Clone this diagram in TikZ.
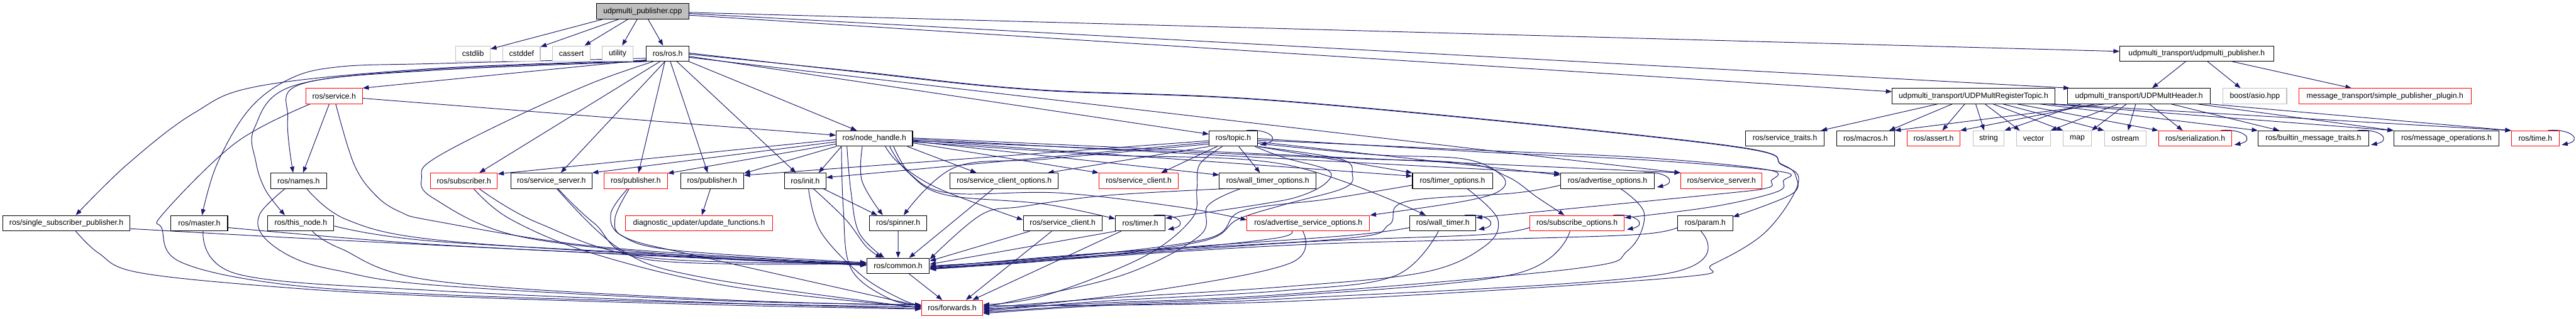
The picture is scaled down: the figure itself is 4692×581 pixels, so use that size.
\documentclass[tikz,border=0pt]{standalone}
\usepackage{fontspec}
\setmainfont{Liberation Sans}
\usetikzlibrary{arrows.meta}
\definecolor{edgec}{HTML}{191970}
\definecolor{grey75}{HTML}{BFBFBF}
\pgfdeclarelayer{bg}
\pgfsetlayers{bg,main}
\newcommand\crv[1]{\draw[e] plot[smooth,tension=0.6] coordinates {#1};}
\newcommand\selfloop[1]{\draw[e] ([xshift=-21pt]#1.north east) .. controls ([xshift=22pt,yshift=4pt]#1.north east) and ([xshift=42pt,yshift=-18pt]#1.north east) .. ([xshift=4pt,yshift=3pt]#1.south east);}
\tikzset{
  box/.style={draw, line width=1.2pt, minimum height=28pt, inner sep=0pt, fill=white, font=\fontsize{14}{16}\selectfont},
  nb/.style={box, draw=black},
  ng/.style={box, draw=grey75},
  nr/.style={box, draw=red},
  mainbox/.style={box, draw=black, fill=grey75},
  e/.style={draw=edgec, line width=1.1pt, line join=round, -{Triangle[length=11pt,width=8pt]}}
}
\begin{document}
\begin{tikzpicture}[x=1pt,y=-1pt]
\useasboundingbox (0,0) rectangle (4692,581);
% Row A
\node[mainbox, minimum width=168pt] (cpp) at (1170.5,20.7) {udpmulti\_publisher.cpp};
% Row B
\node[ng, minimum width=62.4pt] (cstdlib) at (861.6,97.7) {cstdlib};
\node[ng, minimum width=68pt] (cstddef) at (950,97.7) {cstddef};
\node[ng, minimum width=68pt] (cassert) at (1040.7,97.7) {cassert};
\node[ng, minimum width=56pt] (utility) at (1124.9,97.7) {utility};
\node[nb, minimum width=77pt] (ros) at (1216,97.7) {ros/ros.h};
\node[nb, minimum width=280pt] (udppub) at (4001,97.7) {udpmulti\_transport/udpmulti\_publisher.h};
% Row C
\node[nr, minimum width=103pt] (service) at (608.6,175.3) {ros/service.h};
\node[nb, minimum width=296pt] (regtopic) at (3594.6,175.3) {udpmulti\_transport/UDPMultRegisterTopic.h};
\node[nb, minimum width=259.6pt] (header) at (3896,175.3) {udpmulti\_transport/UDPMultHeader.h};
\node[ng, minimum width=116pt] (asio) at (4107,175.3) {boost/asio.hpp};
\node[nr, minimum width=314pt] (mtplugin) at (4344,175.3) {message\_transport/simple\_publisher\_plugin.h};
% Row D
\node[nb, minimum width=139pt] (nh) at (1592.6,252.7) {ros/node\_handle.h};
\node[nb, minimum width=88pt] (topic) at (2246.4,252.7) {ros/topic.h};
\node[nb, minimum width=142.5pt] (srvtraits) at (3251,252.7) {ros/service\_traits.h};
\node[nb, minimum width=105pt] (macros) at (3398,252.7) {ros/macros.h};
\node[nr, minimum width=96pt] (rassert) at (3521.8,252.7) {ros/assert.h};
\node[ng, minimum width=57pt] (str) at (3622,252.7) {string};
\node[ng, minimum width=61pt] (vec) at (3704,252.7) {vector};
\node[ng, minimum width=51pt] (mapn) at (3783.7,252.7) {map};
\node[ng, minimum width=76pt] (ostr) at (3871,252.7) {ostream};
\node[nr, minimum width=133.5pt] (serial) at (3998.5,252.7) {ros/serialization.h};
\node[nb, minimum width=201pt] (builtin) at (4213.6,252.7) {ros/builtin\_message\_traits.h};
\node[nb, minimum width=191.4pt] (msgops) at (4456,252.7) {ros/message\_operations.h};
\node[nr, minimum width=86.7pt] (rtime) at (4618,252.7) {ros/time.h};
% Row E
\node[nb, minimum width=101.3pt] (names) at (543.9,329.8) {ros/names.h};
\node[nr, minimum width=122pt] (sub) at (845,329.8) {ros/subscriber.h};
\node[nb, minimum width=147.6pt] (ssrvB) at (1004.4,329.8) {ros/service\_server.h};
\node[nr, minimum width=115pt] (pubR) at (1158,329.8) {ros/publisher.h};
\node[nb, minimum width=115pt] (pubB) at (1297,329.8) {ros/publisher.h};
\node[nb, minimum width=75.6pt] (rinit) at (1466.7,329.8) {ros/init.h};
\node[nb, minimum width=197.5pt] (sco) at (1829,329.8) {ros/service\_client\_options.h};
\node[nr, minimum width=144.6pt] (sclR) at (2074,329.8) {ros/service\_client.h};
\node[nb, minimum width=176pt] (wto) at (2309,329.8) {ros/wall\_timer\_options.h};
\node[nb, minimum width=145.6pt] (topt) at (2645.6,329.8) {ros/timer\_options.h};
\node[nb, minimum width=171pt] (ao) at (2928,329.8) {ros/advertise\_options.h};
\node[nr, minimum width=148pt] (ssrvR) at (3135.5,329.8) {ros/service\_server.h};
% Row F
\node[nb, minimum width=232pt] (ssp) at (121,407.2) {ros/single\_subscriber\_publisher.h};
\node[nb, minimum width=103.3pt] (master) at (363,407.2) {ros/master.h};
\node[nb, minimum width=120.4pt] (thisnode) at (548,407.2) {ros/this\_node.h};
\node[nr, minimum width=269pt] (diag) at (1273.2,407.2) {diagnostic\_updater/update\_functions.h};
\node[nb, minimum width=104.3pt] (spinner) at (1636,407.2) {ros/spinner.h};
\node[nb, minimum width=143.6pt] (sclB) at (1935.6,407.2) {ros/service\_client.h};
\node[nb, minimum width=90.7pt] (timer) at (2077,407.2) {ros/timer.h};
\node[nr, minimum width=223.4pt] (aso) at (2383,407.2) {ros/advertise\_service\_options.h};
\node[nb, minimum width=120pt] (walltimer) at (2628,407.2) {ros/wall\_timer.h};
\node[nr, minimum width=172.3pt] (subopt) at (2872.5,407.2) {ros/subscribe\_options.h};
\node[nb, minimum width=100pt] (param) at (3105.9,407.2) {ros/param.h};
% Row G, H
\node[nb, minimum width=114.4pt] (common) at (1635.8,485) {ros/common.h};
\node[nr, minimum width=111.8pt] (fwd) at (1734.3,561.8) {ros/forwards.h};

\begin{pgfonlayer}{bg}
% cpp
\draw[e] ([xshift=-73pt]cpp.south) -- (cstdlib);
\draw[e] ([xshift=-44pt]cpp.south) -- (cstddef);
\draw[e] ([xshift=-27pt]cpp.south) -- (cassert);
\draw[e] ([xshift=-10pt]cpp.south) -- (utility);
\draw[e] ([xshift=10pt]cpp.south) -- (ros);
\draw[e] ([yshift=-2pt]cpp.east) -- ([yshift=4pt]udppub.west);
\draw[e] ([yshift=-4pt]cpp.east) -- ([xshift=4pt]header.north west);
\draw[e] ([yshift=-7pt]cpp.east) -- ([yshift=8pt]regtopic.west);
% ros.h
\draw[e] ([yshift=3pt]ros.south west) -- (service.north east);
\crv{([yshift=2pt]ros.south west) (790,125) (473.5,156.7) (352.6,206.7) (231.7,300) ([xshift=17pt]ssp.north)}
\crv{([yshift=6pt]ros.south west) (790,116) (619.6,121.7) (529,143.3) (453.4,200) (395,300) ([xshift=5pt]master.north)}
\crv{([yshift=1pt]ros.south west) (790,126.7) (534,156.7) (463.5,233.3) (466,295) (483.6,346.7) ([xshift=-29pt]thisnode.north)}
\crv{(ros.south west) (790,128.3) (549,153.3) (524,216.7) ([xshift=-10pt]names.north)}
\draw[e] ([xshift=-14pt]ros.south) -- ([xshift=28pt]sub.north);
\draw[e] ([xshift=-5pt]ros.south) -- ([xshift=17pt]ssrvB.north);
\draw[e] ([xshift=-5pt]ros.south) -- ([xshift=5pt]pubR.north);
\draw[e] ([xshift=5pt]ros.south) -- ([xshift=-8pt]pubB.north);
\draw[e] ([xshift=17pt]ros.south) -- ([xshift=-17pt]rinit.north);
\draw[e] (ros.south east) -- ([xshift=-32pt]nh.north);
\draw[e] ([yshift=-5pt]ros.east) -- ([yshift=8pt]topic.west);
\draw[e] ([yshift=-7pt]ros.east) -- (ssrvR.north west);
\crv{([yshift=-1pt]ros.east) (1560,130) (1882,163) (2350,185) (3130,263) (3246,300) (3272,325) (3262,355) ([yshift=-3pt]param.north east)}
\crv{([yshift=1pt]ros.east) (1560,131) (1882,164) (2350,186) (3130,264) (3246,301) (3275,335) (3216,423) (3120,482) (3045,507) (2340,550) ([yshift=4pt]fwd.east)}
\crv{([xshift=13pt]ros.south west) (1082,150) (931,217) (790,290) (768,323) (790,362) (950,432) (1300,470) ([yshift=4pt]common.west)}
% service.h
\draw[e] ([xshift=-9pt]service.south) -- ([xshift=8pt]names.north);
\draw[e] ([yshift=-4pt]service.east) -- ([yshift=6pt]nh.west);
\crv{([xshift=-44pt]service.south) (430,260) (297,390) (295,417) (327,477) (504,517) (790,537) (1300,553) ([yshift=2pt]fwd.west)}
\crv{([xshift=3pt]service.south) (645,300) (685,357) (730,387) (790,403) (1062,447) (1400,472) ([yshift=6pt]common.west)}
% left nodes
\crv{([xshift=15pt]names.south) (630,400) (790,437) (1200,465) ([yshift=2pt]common.west)}
\crv{([xshift=-25pt]names.south) (473.5,390) (478.6,430) (534,470) (614.6,493.3) (790,520) (1300,548) ([yshift=6pt]fwd.west)}
\crv{([yshift=-10pt]ssp.east) (500,432) (790,447) (1300,472) ([yshift=1pt]common.west)}
\crv{([xshift=17pt]ssp.south) (180,462) (252,497) (500,523) (790,540) (1300,556) ([yshift=-2pt]fwd.west)}
\crv{([yshift=-8pt]master.east) (790,446) (1300,471) ([yshift=2pt]common.west)}
\crv{([xshift=7pt]master.south) (433,500) (790,530) (1300,552) ([yshift=-1pt]fwd.west)}
\crv{([yshift=-5pt]thisnode.east) (790,440) (1300,468) ([yshift=3pt]common.west)}
\crv{([xshift=21pt]thisnode.south) (619.6,453) (790,512) (1300,546) ([yshift=5pt]fwd.west)}
\crv{([xshift=28pt]sub.south) (981,407) (1183,470) ([yshift=5pt]common.west)}
\crv{([xshift=18pt]sub.south) (930,400) (1082,463) (1334,523) ([yshift=1pt]fwd.west)}
\crv{([xshift=12pt]ssrvB.south) (1082,407) (1183,474) ([yshift=4pt]common.west)}
\crv{([xshift=10pt]ssrvB.south) (1132.6,456.7) (1283.8,506.7) ([yshift=0pt]fwd.west)}
\crv{([xshift=-15pt]pubR.south) (1112.5,390) (1132.6,430) (1233,457) ([yshift=6pt]common.west)}
\crv{([xshift=-12pt]pubR.south) (1120,400) (1143,435) (1284,470) ([yshift=3pt]fwd.west)}
\draw[e] ([xshift=-3pt]pubB.south) -- ([xshift=5pt]diag.north);
\draw[e] ([xshift=33pt]rinit.south) -- ([xshift=-38pt]spinner.north);
\crv{([xshift=15pt]rinit.south) (1540,400) (1578,450) ([xshift=-30pt]common.north)}
\crv{([xshift=6pt]rinit.south) (1495,423) (1570,503) (1640,545) ([yshift=4pt]fwd.west)}
% node_handle.h
\draw[e] ([yshift=-2pt]nh.west) -- ([yshift=-2pt]sub.north east);
\draw[e] ([yshift=-6pt]nh.west) -- (ssrvB.north east);
\draw[e] ([yshift=-10pt]nh.west) -- ([yshift=-1pt]pubR.north east);
\draw[e] (nh.south west) -- ([yshift=-1pt]pubB.north east);
\draw[e] ([xshift=10pt]nh.south west) -- ([xshift=-14pt]rinit.north east);
\draw[e] ([xshift=-10pt]nh.south east) -- ([xshift=49pt]sco.north west);
\draw[e] ([yshift=-8pt]nh.east) -- (sclR.north west);
\draw[e] ([yshift=-5pt]nh.east) -- ([yshift=-4pt]wto.north west);
\draw[e] ([yshift=-3pt]nh.east) -- ([yshift=-6pt]topt.north west);
\draw[e] ([yshift=-1pt]nh.east) -- ([yshift=-1pt]ao.north west);
\draw[e] ([yshift=1pt]nh.east) -- (ssrvR.north west);
\crv{([xshift=-22pt]nh.south) (1570,330) ([xshift=-28pt]spinner.north)}
\crv{([xshift=20pt]nh.south) (1640,300) (1712,345) ([yshift=6pt]sclB.west)}
\crv{([xshift=35pt]nh.south) (1660,320) (1725,356) (1900,372) ([yshift=8pt]timer.west)}
\crv{([xshift=28pt]nh.south) (1655,315) (1728,352) (1930,352) (2150,378) ([yshift=6pt]aso.west)}
\crv{([yshift=-6pt]nh.east) (2000,282) (2340,300) ([xshift=-31pt]walltimer.north)}
\crv{([yshift=-4pt]nh.east) (2400,287) (2660,297) (2745,322) (2800,360) ([xshift=-23pt]subopt.north)}
\crv{([xshift=-50pt]nh.south) (1550,350) (1565,425) ([xshift=-25pt]common.north)}
\crv{([xshift=-60pt]nh.south) (1536,380) (1550,490) (1620,545) ([yshift=5pt]fwd.west)}
% topic.h
\draw[e] ([yshift=-4pt]topic.west) -- ([yshift=10pt]pubB.east);
\draw[e] ([yshift=-7pt]topic.west) -- ([yshift=6pt]rinit.east);
\draw[e] (topic.south west) -- ([xshift=-20pt]sco.north east);
\draw[e] ([xshift=15pt]topic.south west) -- ([xshift=-32pt]sclR.north east);
\draw[e] ([xshift=10pt]topic.south) -- ([xshift=-14pt]wto.north);
\draw[e] (topic.south east) -- (topt.north west);
\draw[e] ([yshift=-6pt]topic.east) -- ([yshift=-4pt]ao.north west);
\crv{([yshift=-10pt]topic.west) (1907.6,290) (1740,305) ([xshift=10pt]spinner.north)}
\crv{([xshift=-5pt]topic.south east) (2340,288) (2418,310) (2416,333) (2370,357) (2300,372) ([yshift=9pt]timer.east)}
\crv{(topic.south east) (2441,290) (2463,317) (2448,343) (2340,373) (2255,400) (2190,440) (1950,472) ([yshift=-6pt]common.east)}
\crv{([yshift=-9pt]topic.east) (2500,282) (2667,290) (2735,320) (2733,347) (2667,367) (aso.north east)}
\crv{([yshift=-3pt]topic.east) (2693,274) (3000,288) (3221,310) (3226,330) (3218,343) (3120,355) ([yshift=10pt]walltimer.east)}
\crv{(topic.east) (2693,277) (3000,292) (3243,313) (3248,330) (3236,350) (3120,377) ([yshift=10pt]subopt.east)}
\crv{([xshift=-20pt]topic.south) (2185,300) (2180,345) (2170,400) (2080,470) (1900,540) ([yshift=6pt]fwd.east)}
% right side to common / forwards
\draw[e] ([xshift=-20pt]sco.south) -- ([xshift=20pt]common.north);
\draw[e] ([xshift=-60pt]sclB.south) -- ([yshift=9pt]common.east);
\draw[e] ([xshift=-20pt]sclB.south) -- ([xshift=25pt]fwd.north);
\draw[e] ([xshift=-45pt]timer.south) -- ([yshift=3pt]common.east);
\draw[e] ([xshift=-35pt]timer.south) -- ([xshift=37pt]fwd.north);
\crv{([xshift=-80pt]wto.south) (2013.6,356.7) (1862,376.7) (1786.7,392) ([yshift=12pt]common.east)}
\crv{([xshift=-50pt]wto.south) (2200,375) (2185,430) (2050,500) (1850,548) ([yshift=2pt]fwd.east)}
\crv{([yshift=-8pt]topt.west) (2420,363) (2262,385) (2200,435) (1950,468) (common.east)}
\crv{([xshift=27pt]topt.south) (2728,400) (2703,450) (2592,497) (2340,523) (2000,545) (fwd.east)}
\crv{([yshift=-8pt]ao.west) (2760,352) (2560,368) (2530,410) (2450,435) (2000,462) ([yshift=-3pt]common.east)}
\crv{([xshift=24pt]ao.south) (2995,390) (2965,457) (2869,490) (2340,537) (2000,553) ([yshift=-2pt]fwd.east)}
\crv{([xshift=-30pt]aso.south) (2320,435) (2100,458) ([yshift=-5pt]common.east)}
\crv{([xshift=-10pt]aso.south) (2350,480) (2100,530) ([yshift=-4pt]fwd.east)}
\crv{([yshift=-8pt]walltimer.west) (2450,430) (2100,455) ([yshift=-2pt]common.east)}
\crv{([xshift=-8pt]walltimer.south) (2541,503) (2340,530) (2000,550) ([yshift=-6pt]fwd.east)}
\crv{([yshift=-8pt]subopt.west) (2700,428) (2400,440) (2100,460) ([yshift=-4pt]common.east)}
\crv{([xshift=-13pt]subopt.south) (2758,500) (2340,540) (2000,556) ([yshift=-8pt]fwd.east)}
\crv{([yshift=-8pt]param.west) (2980,428) (2700,437) (2400,445) (2100,462) ([yshift=-6pt]common.east)}
\crv{([xshift=-8pt]param.south) (3030,500) (2340,545) (2000,558) ([yshift=-10pt]fwd.east)}
\draw[e] (spinner) -- (common);
\draw[e] ([xshift=20pt]common.south) -- ([xshift=-18pt]fwd.north);
% udpmulti
\draw[e] ([xshift=-20pt]udppub.south) -- ([xshift=24pt]header.north);
\draw[e] ([xshift=20pt]udppub.south) -- ([xshift=-26pt]asio.north);
\draw[e] ([xshift=65pt]udppub.south) -- ([xshift=-61pt]mtplugin.north);
\draw[e] ([xshift=-66pt]regtopic.south) -- ([xshift=-6pt]srvtraits.north east);
\draw[e] ([xshift=-39pt]regtopic.south) -- ([xshift=-10pt]macros.north east);
\draw[e] ([xshift=-16pt]regtopic.south) -- ([xshift=16pt]rassert.north);
\draw[e] ([xshift=4pt]regtopic.south) -- ([xshift=-8pt]str.north);
\draw[e] ([xshift=21pt]regtopic.south) -- ([xshift=6pt]vec.north west);
\draw[e] ([xshift=36pt]regtopic.south) -- (mapn.north west);
\draw[e] ([xshift=54pt]regtopic.south) -- (ostr.north west);
\draw[e] ([xshift=80pt]regtopic.south) -- (serial.north west);
\draw[e] ([xshift=122pt]regtopic.south) -- (builtin.north west);
\draw[e] ([xshift=140pt]regtopic.south) -- (msgops.north west);
\draw[e] (regtopic.south east) -- (rtime.north west);
\draw[e] ([xshift=-63pt]header.south) -- (macros.north east);
\draw[e] ([xshift=-81pt]header.south) -- (rassert.north east);
\draw[e] ([xshift=-106pt]header.south) -- (str.north east);
\draw[e] ([xshift=-38pt]header.south) -- (vec.north east);
\draw[e] ([xshift=-23pt]header.south) -- (mapn.north east);
\draw[e] ([xshift=-6pt]header.south) -- ([xshift=5pt]ostr.north);
\draw[e] ([xshift=19pt]header.south) -- ([xshift=-23pt]serial.north);
\draw[e] ([xshift=59pt]header.south) -- ([xshift=39pt]builtin.north west);
\draw[e] ([xshift=107pt]header.south) -- (msgops.north west);
\draw[e] (header.south east) -- (rtime.north west);
% self loops
\selfloop{topic}
\selfloop{timer}
\selfloop{ao}
\selfloop{walltimer}
\selfloop{subopt}
\selfloop{serial}
\selfloop{builtin}
\selfloop{rtime}
\end{pgfonlayer}
\end{tikzpicture}
\end{document}
